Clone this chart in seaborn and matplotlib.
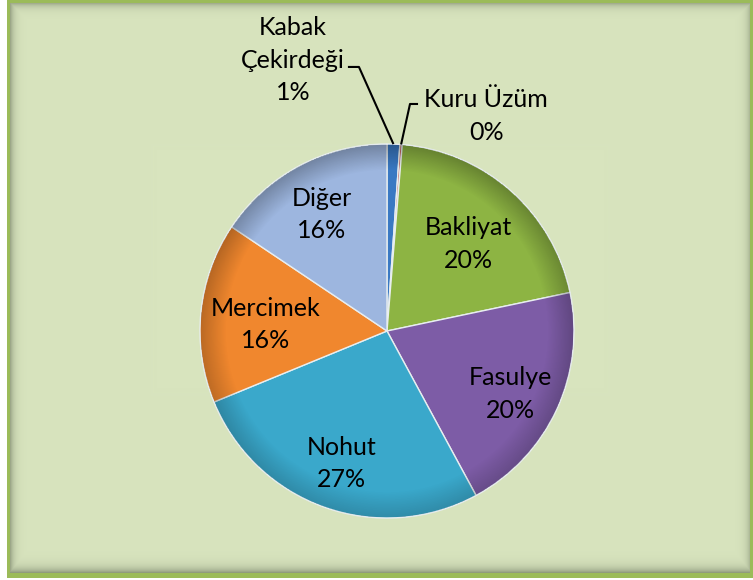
import numpy as np
import matplotlib
matplotlib.use("Agg")
import matplotlib.pyplot as plt
import seaborn as sns

# ---- data ----
categories = ["Kabak\nÇekirdeği", "Kuru Üzüm", "Bakliyat", "Fasulye", "Nohut", "Mercimek", "Diğer"]
values = [1.1, 0.2, 20.4, 20.4, 26.7, 15.6, 15.6]
colors = ["#3A79C3", "#C0504D", "#8DB443", "#7D5CA6", "#3AA8CB", "#F0872E", "#9DB6DF"]

# ---- layout (label radial distances for inside labels) ----
label_r = [0, 0, 0.66, 0.73, 0.72, 0.655, 0.74]
label_dy = -0.03

sns.set_style("white")
plt.rcParams['font.family'] = ['Lato', 'DejaVu Sans']

W, H = 753, 580
fig = plt.figure(figsize=(W / 100, H / 100), dpi=100)
fig.patch.set_facecolor("white")

# ---- background frame with inner shadow ----
bg = fig.add_axes([0, 0, 1, 1])
bg.axis("off")
img = np.ones((H, W, 3))
green = np.array([0x9B, 0xBB, 0x59]) / 255
light = np.array([0xD8, 0xE4, 0xBE]) / 255
shadow = np.array([0.38, 0.42, 0.33])
img[0:578, 7:753] = green
yy, xx = np.mgrid[0:H, 0:W]
x0, x1, y0, y1 = 10, 750, 3, 573
inner = (xx >= x0) & (xx < x1) & (yy >= y0) & (yy < y1)
dt = yy - y0
db = y1 - 1 - yy
dl = xx - x0
dr = x1 - 1 - xx
dark = np.maximum.reduce([0.45 * np.exp(-dt / 4.0), 0.6 * np.exp(-db / 5.0),
                          0.5 * np.exp(-dl / 4.0), 0.35 * np.exp(-dr / 4.0)])
fill = light[None, None, :] * (1 - dark[..., None]) + shadow[None, None, :] * dark[..., None]
img[inner] = fill[inner]
bg.imshow(img, extent=[0, W, H, 0], interpolation="nearest", aspect="auto")
bg.set_xlim(0, W)
bg.set_ylim(H, 0)

# ---- pie ----
cx, cy, r = 387, 331, 187
ax = fig.add_axes([(cx - r) / W, (H - cy - r) / H, 2 * r / W, 2 * r / H])
wedges, _ = ax.pie(values, colors=colors, startangle=90, counterclock=False,
                   wedgeprops=dict(edgecolor="#E8EEF0", linewidth=1.0))
ax.set_xlim(-1, 1)
ax.set_ylim(-1, 1)
ax.axis("off")

# subtle bevel shading near the rim
g = np.linspace(-1, 1, 400)
gx, gy = np.meshgrid(g, g)
rr = np.hypot(gx, gy)
shade = np.zeros((400, 400, 4))
shade[..., 3] = 0.28 * np.clip((rr - 0.86) / 0.14, 0, 1) * (0.6 + 0.4 * (-gy + 1) / 2)
shade[rr > 1.0, 3] = 0
im = ax.imshow(shade, extent=[-1, 1, -1, 1], origin="upper", zorder=3,
               interpolation="bilinear")
im.set_clip_path(plt.Circle((0, 0), 1.0, transform=ax.transData))

total = sum(values)
fs = 18
ls = 1.5
for w, name, v, lr in zip(wedges, categories, values, label_r):
    pct = f"{round(v / total * 100):.0f}%"
    mid = np.deg2rad((w.theta1 + w.theta2) / 2)
    ex, ey = np.cos(mid), np.sin(mid)
    if v >= 5:
        ax.text(lr * ex, lr * ey + label_dy, f"{name}\n{pct}", ha="center", va="center",
                fontsize=fs, linespacing=ls, color="black", zorder=5)
    elif name.startswith("Kabak"):
        ax.text(-0.503, 1.449, f"{name}\n{pct}", ha="center", va="center",
                fontsize=fs, linespacing=ls, color="black", clip_on=False)
        ax.plot([-0.209, -0.150, ex], [1.412, 1.412, ey], color="black", lw=1.5,
                clip_on=False, solid_capstyle="butt", zorder=5)
    else:
        ax.text(0.53, 1.15, f"{name}\n{pct}", ha="center", va="center",
                fontsize=fs, linespacing=ls, color="black", clip_on=False)
        ax.plot([0.166, 0.123, ex], [1.214, 1.214, ey], color="black", lw=1.5,
                clip_on=False, solid_capstyle="butt", zorder=5)

fig.savefig("out.png", dpi=100)
